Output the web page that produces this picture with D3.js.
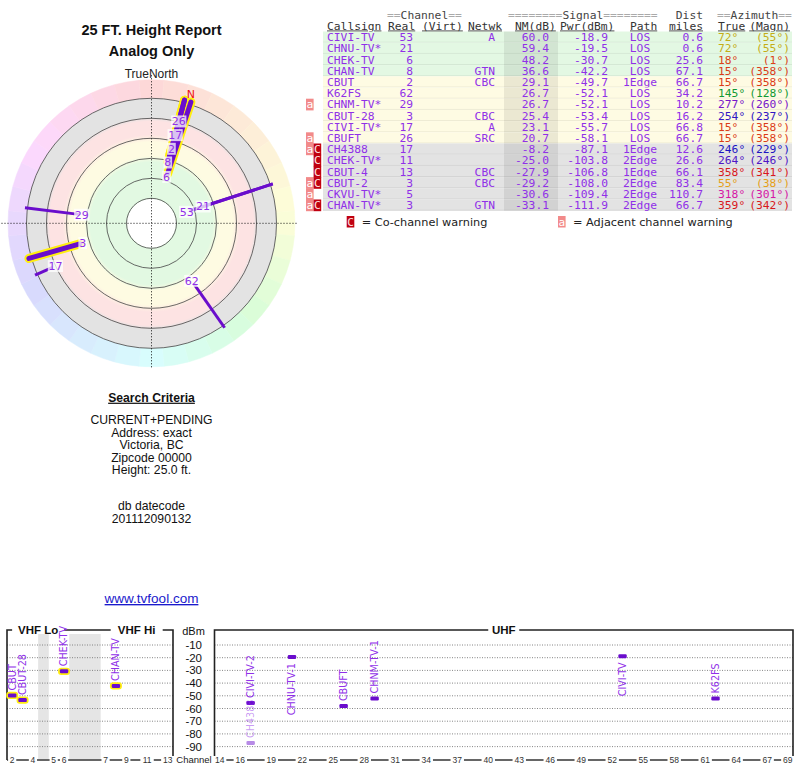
<!DOCTYPE html>
<html>
<head>
<meta charset="utf-8">
<script src="https://cdn.jsdelivr.net/npm/d3@7"></script>
<style>
body { margin: 0; background: #fff; }
svg { display: block; }
</style>
</head>
<body>
<div id="screen"></div>
<script>
// station table, one entry per row
var callsigns = ["CIVI-TV","CHNU-TV*","CHEK-TV","CHAN-TV","CBUT","K62FS","CHNM-TV*","CBUT-28","CIVI-TV*","CBUFT","CH4388","CHEK-TV*","CBUT-4","CBUT-2","CKVU-TV*","CHAN-TV*"];
var realCh = [53,21,6,8,2,62,29,3,17,26,17,11,13,3,5,3];
var networks = ["A","","","GTN","CBC","","","CBC","A","SRC","","","CBC","CBC","","GTN"];
var nmDb = [60.0,59.4,48.2,36.6,29.1,26.7,26.7,25.4,23.1,20.7,-8.2,-25.0,-27.9,-29.2,-30.6,-33.1];
var pwrDbm = [-18.9,-19.5,-30.7,-42.2,-49.7,-52.1,-52.1,-53.4,-55.7,-58.1,-87.1,-103.8,-106.8,-108.0,-109.4,-111.9];
var paths = ["LOS","LOS","LOS","LOS","1Edge","LOS","LOS","LOS","LOS","LOS","1Edge","2Edge","1Edge","2Edge","2Edge","2Edge"];
var distMiles = [0.6,0.6,25.6,67.1,66.7,34.2,10.2,16.2,66.8,66.7,12.6,26.6,66.1,83.4,110.7,66.7];
var azTrue = [72,72,18,15,15,145,277,254,15,15,246,264,358,55,318,359];
var azMagn = [55,55,1,358,358,128,260,237,358,358,229,246,341,38,301,342];
var warnings = ["","","","","","","a","","","a","aC","C","C","aC","a","aC"];
// names used on the spectrum plot
var specLabels = ["CIVI-TV","CHNU-TV-1","CHEK-TV","CHAN-TV","CBUT","K62FS","CHNM-TV-1","CBUT-28","CIVI-TV-2","CBUFT","CH4388","CHEK-TV-1","CBUT-4","CBUT-2","CKVU-TV-1","CHAN-TV-1"];

// axis / ring values
var ringLevels = [75,55,35,15,-5,-25];
var dbmTicks = [-10,-20,-30,-40,-50,-60,-70,-80,-90];
var vhfSlots = [2,3,4,null,5,6,null,null,null,7,8,9,10,11,12,13];
var vhfTicks = [2,4,5,6,7,9,11,13];
var uhfTicks = [14,16,19,22,25,28,31,34,37,40,43,46,49,52,55,58,61,64,67,69];

// left column text
var titleLines = ["25 FT. Height Report","Analog Only"];
var criteriaLines = ["CURRENT+PENDING","Address: exact","Victoria, BC","Zipcode 00000","Height: 25.0 ft."];
var dbLines = ["db datecode","201112090132"];

var stations = callsigns.map(function(c, i){
    return {call:c, ch:realCh[i], net:networks[i], nm:nmDb[i], pwr:pwrDbm[i], path:paths[i],
            dist:distMiles[i], az:azTrue[i], mag:azMagn[i], warn:warnings[i], spec:specLabels[i], i:i};
});

var PURPLE = "#9030e8";
var LINE = "#6a0dcc";

//hue wheel used for azimuth colours
var hueScale = d3.scaleLinear().domain([0,90,180,270,360]).range([0,65,180,265,360]);
var lightScale = d3.scaleLinear().domain([0,40,60,140,240,320,360]).range([.47,.5,.38,.33,.42,.47,.47]);
function azColor(az){
    var h = hueScale(az);
    return d3.hsl(h, 0.8, lightScale(h)).formatHex();
}
function zoneFill(nm){
    return nm >= 35 ? "#e3f8e3" : nm >= 15 ? "#fefbe3" : nm >= -5 ? "#fde5e5" : "#e3e3e3";
}

var svg = d3.select("#screen").append("svg")
    .attr("width", 800).attr("height", 768)
    .style("font-family", "'Liberation Sans', Arial, sans-serif");

// ---------- left column ----------
var CX = 151.5;
svg.selectAll("text.title").data(titleLines).join("text")
    .attr("class","title")
    .attr("x", CX).attr("y", (d,i) => 34.5 + i*21.5)
    .attr("text-anchor","middle")
    .style("font-weight","bold").style("font-size","14.5px").attr("fill","#111")
    .text(d => d);

svg.append("text").attr("x", CX).attr("y", 78).attr("text-anchor","middle")
    .style("font-size","12px").attr("fill","#222").text("TrueNorth");

svg.append("text").attr("x", CX).attr("y", 401.7).attr("text-anchor","middle")
    .style("font-size","12.2px").style("font-weight","bold").style("text-decoration","underline")
    .attr("fill","#111").text("Search Criteria");

svg.selectAll("text.crit").data(criteriaLines).join("text")
    .attr("class","crit")
    .attr("x", CX).attr("y", (d,i) => 424.4 + i*12.5)
    .attr("text-anchor","middle").style("font-size","12.2px").attr("fill","#111")
    .text(d => d);

svg.selectAll("text.dbc").data(dbLines).join("text")
    .attr("class","dbc")
    .attr("x", CX).attr("y", (d,i) => 510.4 + i*12.3)
    .attr("text-anchor","middle").style("font-size","12.2px").attr("fill","#111")
    .text(d => d);

svg.append("text").attr("x", CX).attr("y", 603).attr("text-anchor","middle")
    .style("font-size","13.5px").style("text-decoration","underline")
    .attr("fill","#1a1acc").text("www.tvfool.com");

// ---------- polar plot ----------
var PC = {x: 151.5, y: 223.3};
var rScale = d3.scaleLinear().domain([75,-25]).range([25,125]);
var polar = svg.append("g").attr("transform", "translate(" + PC.x + "," + PC.y + ")");

function pt(r, az){
    var t = az * Math.PI / 180;
    return [r * Math.sin(t), -r * Math.cos(t)];
}

var defs = svg.append("defs");
var grad = defs.append("radialGradient").attr("id","zones")
    .attr("gradientUnits","userSpaceOnUse").attr("cx",0).attr("cy",0).attr("r",125);
[[0,"#e2f9e2"],[0.49,"#e2f9e2"],[0.54,"#fefbe2"],[0.65,"#fefbe2"],[0.71,"#fde3e3"],[0.815,"#fde3e3"],[0.85,"#e3e3e3"],[1,"#e3e3e3"]]
    .forEach(function(s){ grad.append("stop").attr("offset", s[0]).attr("stop-color", s[1]); });

var arc = d3.arc();
polar.selectAll("path.hue").data(d3.range(0, 360, 10)).join("path")
    .attr("class","hue")
    .attr("d", a => arc({innerRadius:125, outerRadius:143.5,
        startAngle:(a-5)*Math.PI/180, endAngle:(a+5)*Math.PI/180}))
    .attr("fill", a => d3.hsl(hueScale(a), 0.9, 0.92).formatHex())
    .attr("stroke", a => d3.hsl(hueScale(a), 0.9, 0.92).formatHex()).attr("stroke-width", 0.5);

polar.append("circle").attr("r",125).attr("fill","url(#zones)");
polar.append("circle").attr("r",24.5).attr("fill","#fff");

polar.selectAll("circle.ring").data(ringLevels).join("circle")
    .attr("class","ring")
    .attr("r", d => rScale(d))
    .attr("fill","none").attr("stroke","#444").attr("stroke-width",0.8);

polar.append("line").attr("x1",-150).attr("x2",145).attr("y1",0).attr("y2",0)
    .attr("stroke","#111").attr("stroke-dasharray","1,2");
polar.append("line").attr("x1",0).attr("x2",0).attr("y1",-148).attr("y2",145)
    .attr("stroke","#111").attr("stroke-dasharray","1,2");

var visible = stations.filter(d => d.nm > -25);
var R_END = 127.5;

// yellow halo for VHF stations
polar.selectAll("line.halo").data(visible.filter(d => d.ch <= 13)).join("line")
    .attr("class","halo")
    .attr("x1", d => pt(rScale(d.nm), d.az)[0]).attr("y1", d => pt(rScale(d.nm), d.az)[1])
    .attr("x2", d => pt(R_END, d.az)[0]).attr("y2", d => pt(R_END, d.az)[1])
    .attr("stroke","#ffee10").attr("stroke-width",9).attr("stroke-linecap","round");

polar.selectAll("line.sig").data(visible).join("line")
    .attr("class","sig")
    .attr("x1", d => pt(rScale(d.nm), d.az)[0]).attr("y1", d => pt(rScale(d.nm), d.az)[1])
    .attr("x2", d => pt(R_END, d.az)[0]).attr("y2", d => pt(R_END, d.az)[1])
    .attr("stroke", LINE)
    .attr("stroke-width", d => d.ch <= 13 ? 5 : 3)
    .attr("stroke-linecap", d => d.ch <= 13 ? "round" : "butt");

//spread out labels that would sit on top of each other
var sorted = visible.slice().sort((a,b) => rScale(a.nm) - rScale(b.nm));
var placed = [];
sorted.forEach(function(d){
    var r = rScale(d.nm) - 3;
    var sp = 13 + 4.5 * Math.abs(Math.sin(d.az * Math.PI / 180));
    placed.forEach(function(p){
        var da = Math.abs(((d.az - p.az + 540) % 360) - 180);
        if (da < 6) r = Math.max(r, p.lr + sp);
    });
    d.lr = r;
    placed.push(d);
});

var labs = polar.selectAll("g.lab").data(sorted).join("g")
    .attr("class","lab")
    .attr("transform", d => "translate(" + pt(d.lr, d.az) + ")");
labs.append("rect")
    .attr("x", d => -(String(d.ch).length * 6.6 + 2) / 2).attr("y",-6)
    .attr("width", d => String(d.ch).length * 6.6 + 2).attr("height",12)
    .attr("fill","#fff").attr("fill-opacity",0.75);
labs.append("text").attr("text-anchor","middle").attr("dy","0.36em")
    .style("font-family","'DejaVu Sans', sans-serif").style("font-size","11px")
    .attr("fill", PURPLE).text(d => d.ch);

var decl = azTrue[0] - azMagn[0];
polar.append("text").attr("transform", "translate(" + pt(135, decl) + ")")
    .attr("text-anchor","middle").attr("dy","0.36em")
    .style("font-family","'DejaVu Sans', sans-serif").style("font-size","11px")
    .attr("fill","#ee1111").text("N");

// ---------- station table ----------
var ROW_TOP = 31.5, ROW_H = 11.2;
var table = svg.append("g")
    .style("font-family","'DejaVu Sans Mono', monospace").style("font-size","11.3px");

function fancyHead(x, anchor, label, pad){
    var t = table.append("text").attr("x", x).attr("y", 18.5).attr("text-anchor", anchor);
    var eq = "=".repeat(pad);
    if (pad) t.append("tspan").attr("fill","#aaa").text(eq);
    t.append("tspan").attr("fill","#444").text(label);
    if (pad) t.append("tspan").attr("fill","#aaa").text(eq);
}
fancyHead(387, "start", "Channel", 2);
fancyHead(508, "start", "Signal", 8);
fancyHead(703, "end", "Dist", 0);
fancyHead(717, "start", "Azimuth", 2);

var head2 = [["Callsign",327,"start"],["Real",388,"start"],["(Virt)",422,"start"],["Netwk",468,"start"],
             ["NM(dB)",515,"start"],["Pwr(dBm)",560,"start"],["Path",630,"start"],["miles",703,"end"],
             ["True",718,"start"],["(Magn)",790,"end"]];
table.selectAll("text.h2").data(head2).join("text")
    .attr("class","h2")
    .attr("x", d => d[1]).attr("y", 29.5).attr("text-anchor", d => d[2])
    .attr("fill","#333").style("text-decoration","underline")
    .text(d => d[0]);

var rows = table.selectAll("g.row").data(stations).join("g")
    .attr("class","row")
    .attr("transform", d => "translate(0," + (ROW_TOP + d.i * ROW_H) + ")");

rows.append("rect").attr("x",323).attr("width",469).attr("height",ROW_H)
    .attr("fill", d => zoneFill(d.nm));
rows.append("rect").attr("x",504).attr("width",54).attr("height",ROW_H)
    .attr("fill","#000").attr("fill-opacity",0.075);
rows.append("line").attr("x1",323).attr("x2",792).attr("y1",ROW_H - 0.5).attr("y2",ROW_H - 0.5)
    .attr("stroke","#000").attr("stroke-opacity",0.07);

var cols = [
    {x:327, a:"start", f: d => d.call},
    {x:413, a:"end", f: d => d.ch},
    {x:495, a:"end", f: d => d.net},
    {x:549, a:"end", f: d => d.nm.toFixed(1)},
    {x:608, a:"end", f: d => d.pwr.toFixed(1)},
    {x:640, a:"middle", f: d => d.path},
    {x:703, a:"end", f: d => d.dist.toFixed(1)}
];
cols.forEach(function(c){
    rows.append("text").attr("x", c.x).attr("y", ROW_H/2 + 4).attr("text-anchor", c.a)
        .attr("fill", PURPLE).text(c.f);
});
rows.append("text").attr("x",718).attr("y", ROW_H/2 + 4)
    .attr("fill", d => azColor(d.az)).text(d => d.az + "\u00b0");
rows.append("text").attr("x",790).attr("y", ROW_H/2 + 4).attr("text-anchor","end")
    .attr("fill", d => azColor(d.az)).text(d => "(" + d.mag + "\u00b0)");

// warning flags
function flag(g, x, ch){
    g.append("rect").attr("x", x).attr("y", 0).attr("width", 7.6).attr("height", ROW_H + 0.5)
        .attr("fill", ch == "C" ? "#c00010" : "#f28a8a");
    g.append("text").attr("x", x + 3.8).attr("y", ROW_H/2 + 4).attr("text-anchor","middle")
        .attr("fill", ch == "C" ? "#ffe0e0" : "#fff").text(ch);
}
rows.each(function(d){
    var g = d3.select(this);
    if (d.warn.indexOf("a") >= 0) flag(g, 306, "a");
    if (d.warn.indexOf("C") >= 0) flag(g, 313.6, "C");
});

// legend
var leg = svg.append("g");
var legItems = [["C", 346.7, "= Co-channel warning"], ["a", 558, "= Adjacent channel warning"]];
legItems.forEach(function(it){
    var g = leg.append("g").attr("transform","translate(0,216)");
    g.append("rect").attr("x", it[1]).attr("width",7.6).attr("height",11.5)
        .attr("fill", it[0] == "C" ? "#c00010" : "#f28a8a");
    g.append("text").attr("x", it[1] + 3.8).attr("y", 9.5).attr("text-anchor","middle")
        .style("font-family","'DejaVu Sans Mono', monospace").style("font-size","11px")
        .attr("fill", it[0] == "C" ? "#ffe0e0" : "#fff").text(it[0]);
    g.append("text").attr("x", it[1] + 15).attr("y", 9.8)
        .style("font-family","'DejaVu Sans', sans-serif").style("font-size","11.3px")
        .attr("fill","#222").text(it[2]);
});

// ---------- spectrum panels ----------
var yS = d3.scaleLinear().domain([0,-100]).range([632.3,759.3]);
var TOP = 630, BASE = 760;
var vhfX = d3.scaleLinear().domain([0,16]).range([7,173]);
var uhfX = d3.scaleLinear().domain([13.5,69.5]).range([214.5,793]);
function chX(ch){
    return ch <= 13 ? vhfX(vhfSlots.indexOf(ch) + 0.5) : uhfX(ch);
}
var spec = svg.append("g");

// gaps in the VHF band
var gaps = vhfSlots.map((s,i) => s === null ? i : -1).filter(i => i >= 0);
spec.selectAll("rect.gap").data(gaps).join("rect")
    .attr("class","gap")
    .attr("x", i => vhfX(i)).attr("width", vhfX(1) - vhfX(0) + 0.3)
    .attr("y", 634).attr("height", BASE - 634 - 1)
    .attr("fill","#e5e5e5");

var panels = [{x0:7, x1:173}, {x0:214.5, x1:793}];
panels.forEach(function(p){
    spec.selectAll(null).data(dbmTicks).join("line")
        .attr("x1", p.x0).attr("x2", p.x1).attr("y1", d => yS(d)).attr("y2", d => yS(d))
        .attr("stroke","#777").attr("stroke-width",0.9).attr("stroke-dasharray","1,1.5");
    spec.append("path")
        .attr("d", "M" + p.x0 + "," + BASE + "V" + TOP + "H" + p.x1 + "V" + BASE)
        .attr("fill","none").attr("stroke","#222").attr("stroke-width",1.6);
    spec.append("line").attr("x1", p.x0).attr("x2", p.x1).attr("y1", BASE).attr("y2", BASE)
        .attr("stroke","#333").attr("stroke-width",1.4);
});

// band titles breaking the top border
var bandTitles = [["VHF Lo", (vhfX(0) + vhfX(6)) / 2], ["VHF Hi", (vhfX(9) + vhfX(16)) / 2], ["UHF", (uhfX(13.5) + uhfX(69.5)) / 2]];
bandTitles.forEach(function(b){
    var w = b[0].length * 7 + 10;
    spec.append("rect").attr("x", b[1] - w/2).attr("y", TOP - 3).attr("width", w).attr("height", 6).attr("fill","#fff");
    spec.append("text").attr("x", b[1]).attr("y", TOP + 4).attr("text-anchor","middle")
        .style("font-weight","bold").style("font-size","11.5px").attr("fill","#111").text(b[0]);
});

// dBm axis
spec.append("text").attr("x",193.5).attr("y",TOP + 5).attr("text-anchor","middle")
    .style("font-size","11px").attr("fill","#111").text("dBm");
spec.selectAll("text.dbm").data(dbmTicks).join("text")
    .attr("class","dbm")
    .attr("x",202).attr("y", d => yS(d) + 4).attr("text-anchor","end")
    .style("font-size","11.5px").attr("fill","#111").text(d => d);

// channel labels along the base
var chTicks = vhfTicks.concat(uhfTicks);
var tk = spec.selectAll("g.tk").data(chTicks).join("g")
    .attr("class","tk").attr("transform", d => "translate(" + chX(d) + "," + BASE + ")");
tk.append("rect").attr("x", d => -(String(d).length * 2.6 + 1.5)).attr("y",-4)
    .attr("width", d => String(d).length * 5.2 + 3).attr("height",8).attr("fill","#fff");
tk.append("text").attr("text-anchor","middle").attr("dy","0.35em")
    .style("font-size","8.5px").attr("fill","#333").text(d => d);
spec.append("rect").attr("x",175).attr("y",754).attr("width",38).attr("height",12).attr("fill","#fff");
spec.append("text").attr("x",194).attr("y",BASE).attr("dy","0.35em").attr("text-anchor","middle")
    .style("font-size","9.5px").attr("fill","#222").text("Channel");

// station markers
var shown = stations.filter(d => d.pwr >= -100);
var fade = d3.scaleLinear().domain([-10,20]).range([0.45,1]).clamp(true);

spec.selectAll("rect.vhfhalo").data(shown.filter(d => d.ch <= 13)).join("rect")
    .attr("class","vhfhalo")
    .attr("x", d => chX(d.ch) - 6).attr("y", d => yS(d.pwr) - 3.6)
    .attr("width",12).attr("height",7.2).attr("rx",3.2).attr("fill","#ffee10");
spec.selectAll("rect.mk").data(shown).join("rect")
    .attr("class","mk")
    .attr("x", d => chX(d.ch) - 4.2).attr("y", d => yS(d.pwr) - 2)
    .attr("width",8.4).attr("height",4).attr("rx",1.2)
    .attr("fill", LINE).attr("fill-opacity", d => fade(d.nm));

spec.selectAll("text.sl").data(shown).join("text")
    .attr("class","sl")
    .attr("transform", d => "translate(" + chX(d.ch) + "," + (d.pwr > -25 ? yS(d.pwr) + 6 : yS(d.pwr) - 5) + ") rotate(-90)")
    .attr("text-anchor", d => d.pwr > -25 ? "end" : "start")
    .attr("dy","0.35em")
    .style("font-family","'DejaVu Sans', sans-serif").style("font-size","9.6px")
    .attr("fill", PURPLE).attr("fill-opacity", d => fade(d.nm))
    .text(d => d.spec);
</script>
</body>
</html>
